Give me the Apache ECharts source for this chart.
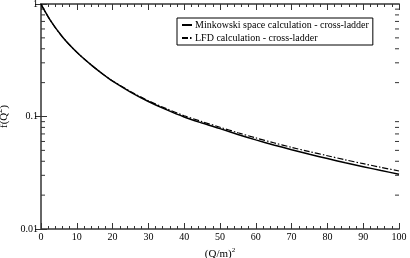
<!DOCTYPE html>
<html><head><meta charset="utf-8">
<script src="https://cdn.jsdelivr.net/npm/echarts@6/dist/echarts.min.js"></script>
<style>html,body{margin:0;padding:0;background:#fff}#c{width:410px;height:258px}</style>
</head><body><div id="c"></div>
<script>
var qValues = [0,1,2,3,4,5,6,8,10,12,14,16,18,20,25,30,35,40,45,50,55,60,65,70,75,80,85,90,95,100];
var minkowski = [1.0,0.872,0.77,0.686,0.617,0.56,0.51,0.432,0.373,0.326,0.288,0.256,0.229,0.206,0.165,0.136,0.115,0.099,0.0875,0.078,0.0693,0.062,0.0559,0.0507,0.0462,0.0423,0.0388,0.0358,0.0331,0.0307];
var lfd = [1.0,0.872,0.77,0.686,0.617,0.56,0.51,0.432,0.373,0.326,0.288,0.256,0.229,0.207,0.167,0.138,0.1175,0.1015,0.090,0.0803,0.0717,0.0645,0.0584,0.0532,0.0487,0.0448,0.0412,0.0381,0.0353,0.0328];
var yMinorTicks = [0.02,0.03,0.04,0.05,0.06,0.07,0.08,0.09,0.2,0.3,0.4,0.5,0.6,0.7,0.8,0.9];
var yTickLabels = {'1':'1','0.1':'0.1','0.01':'0.01'};
var names = ['Minkowski space calculation - cross-ladder','LFD calculation - cross-ladder'];

var font = 'Liberation Serif';
function pairs(a){ return qValues.map(function(q,i){return [q,a[i]];}); }
var axisColor = '#666';
var chart = echarts.init(document.getElementById('c'));
var xBase = {
  type:'value', min:0, max:100, interval:10,
  axisLine:{lineStyle:{color:axisColor,width:2}},
  axisTick:{inside:true,length:6,lineStyle:{color:'#333'}},
  minorTick:{show:true,splitNumber:5,length:3,lineStyle:{color:'#333'}},
  splitLine:{show:false}
};
var yBase = {
  type:'log', logBase:10, min:0.01, max:1,
  axisLine:{lineStyle:{color:axisColor,width:2}},
  axisTick:{inside:true,length:6,lineStyle:{color:'#333'}},
  splitLine:{show:false}
};
chart.setOption({
  animation:false,
  grid:{left:41,right:11,top:4,bottom:29,containLabel:false,outerBoundsMode:'none'},
  textStyle:{fontFamily:font},
  legend:{
    show:true, orient:'vertical', left:177, top:18, itemWidth:10, itemHeight:8, itemGap:3,
    padding:[2,4,2,4], borderColor:'#000', borderWidth:1, backgroundColor:'#fff',
    textStyle:{fontFamily:font,fontSize:10,color:'#000',padding:[0,0,0,-2]},
    itemStyle:{opacity:0},
    data:[names[0],names[1]]
  },
  xAxis:[
    Object.assign({},xBase,{position:'bottom',
      name:'{a|(Q/m)}{s|2}', nameLocation:'middle', nameGap:15,
      nameTextStyle:{rich:{a:{fontFamily:font,fontSize:11,color:'#000'},s:{fontFamily:font,fontSize:7,color:'#000',padding:[0,0,8,0]}}},
      axisLabel:{fontFamily:font,fontSize:10,color:'#000',margin:3}}),
    Object.assign({},xBase,{position:'top',axisLabel:{show:false}})
  ],
  yAxis:[
    Object.assign({},yBase,{position:'left',
      name:'{a|f(Q}{s|2}{a|)}', nameLocation:'middle', nameGap:23,
      nameTextStyle:{rich:{a:{fontFamily:font,fontSize:11,color:'#000'},s:{fontFamily:font,fontSize:8,color:'#000',padding:[0,0,8,0]}}},
      axisLabel:{fontFamily:font,fontSize:10,color:'#000',margin:3,showMinLabel:true,showMaxLabel:true,
        formatter:function(v){var k=String(+(+v).toPrecision(3));return yTickLabels[k]!==undefined?yTickLabels[k]:k;}}}),
    Object.assign({},yBase,{position:'right',axisLabel:{show:false}})
  ],
  series:[
    {name:names[0],type:'line',data:pairs(minkowski),smooth:0.3,symbol:'none',
     lineStyle:{color:'#000',width:1.5,type:'solid'},itemStyle:{color:'#000'}},
    {name:names[1],type:'line',data:pairs(lfd),smooth:0.3,symbol:'none',
     lineStyle:{color:'#000',width:1.2,type:[6,2,1.5,2]},itemStyle:{color:'#000'}},
    {name:'minor',type:'custom',silent:true,
     data:yMinorTicks.map(function(v){return [0,v];}),
     renderItem:function(params,api){
       var p = api.coord([0,api.value(1)]);
       var r = api.coord([100,api.value(1)])[0];
       return {type:'group',children:[
         {type:'line',shape:{x1:p[0],y1:p[1],x2:p[0]+4,y2:p[1]},style:{stroke:'#333',lineWidth:1}},
         {type:'line',shape:{x1:r,y1:p[1],x2:r-4,y2:p[1]},style:{stroke:'#333',lineWidth:1}}
       ]};
     }}
  ]
});
</script></body></html>
